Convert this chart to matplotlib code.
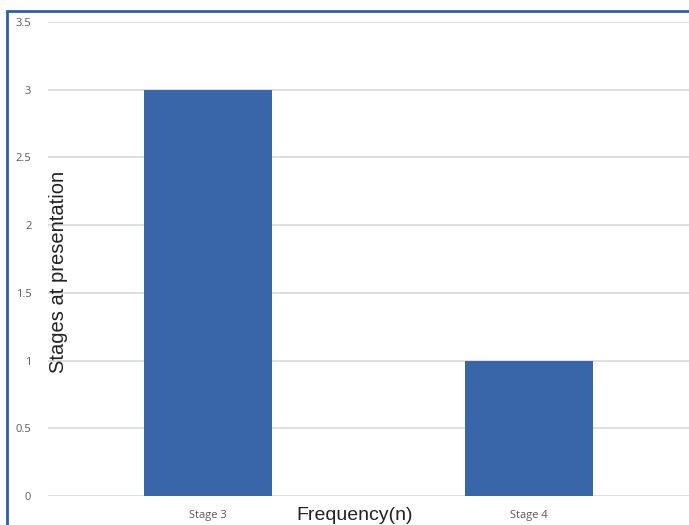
import matplotlib.pyplot as plt
import matplotlib.patches as mpatches

# stage counts
stages = ["Stage 3", "Stage 4"]
counts = [3, 1]
yticks = [0, 0.5, 1, 1.5, 2, 2.5, 3, 3.5]

fig = plt.figure(figsize=(6.89, 5.25), dpi=100)
ax = fig.add_axes([48/689, 1 - 496/525, 1 - 48/689, (496 - 22)/525])

ax.bar(range(len(stages)), counts, width=0.4, color="#3966a8", zorder=3)
ax.set_xlim(-0.5, len(stages) - 0.5)
ax.set_ylim(0, 3.5)
ax.set_yticks(yticks)
ax.set_yticklabels([f"{t:g}" for t in yticks])
ax.set_xticks(range(len(stages)))
ax.set_xticklabels(stages)

for s in ax.spines.values():
    s.set_visible(False)
ax.grid(axis="y", color="#d9d9d9", linewidth=1.2, zorder=1)
ax.tick_params(axis="both", length=0, labelsize=8, labelcolor="#595959")
ax.tick_params(axis="y", pad=12)
ax.tick_params(axis="x", pad=10)
for lab in ax.get_xticklabels() + ax.get_yticklabels():
    lab.set_fontfamily("Open Sans")

fig.text(59/689, 1 - 272/525, "Stages at presentation", rotation=90,
         ha="center", va="center", fontsize=14.5, family="Liberation Sans", color="#222222")
fig.text(355/689, 1 - 515/525, "Frequency(n)", ha="center", va="center",
         fontsize=14, family="Liberation Sans", color="#222222")

# blue frame around the figure
frame = mpatches.Rectangle((7/689, -0.1), 1.2, 0.1 + 1 - 11/525, transform=fig.transFigure,
                           fill=False, edgecolor="#2f5ea8", linewidth=2, clip_on=False)
fig.patches.append(frame)

fig.savefig("out.png", dpi=100, facecolor="w")
